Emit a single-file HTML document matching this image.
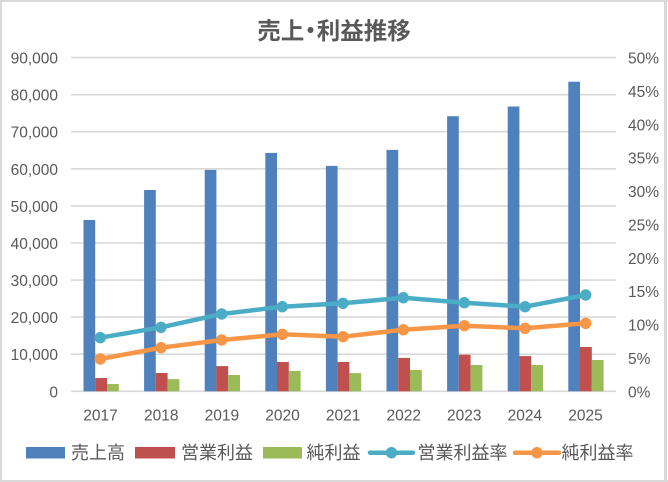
<!DOCTYPE html>
<html><head><meta charset="utf-8">
<style>
html,body{margin:0;padding:0;background:#fff;}
body{width:668px;height:482px;overflow:hidden;}
svg{display:block;}
.ax{font-family:"Liberation Sans","Noto Sans CJK JP",sans-serif;font-size:15.5px;fill:#595959;}
.lg{font-family:"Liberation Sans","Noto Sans CJK JP",sans-serif;font-size:18px;fill:#595959;}
.tt{font-family:"Liberation Sans","Noto Sans CJK JP",sans-serif;font-size:23.5px;font-weight:bold;fill:#595959;}
</style></head>
<body>
<svg width="668" height="482" viewBox="0 0 668 482" xmlns="http://www.w3.org/2000/svg">
<rect x="0" y="0" width="668" height="482" fill="#fff"/>
<!-- border -->
<rect x="0" y="0" width="668" height="2" fill="#d9d9d9"/>
<rect x="0" y="480" width="668" height="2" fill="#d9d9d9"/>
<rect x="0" y="0" width="2" height="482" fill="#d9d9d9"/>
<rect x="664" y="0" width="3" height="482" fill="#d9d9d9"/>

<text class="tt" x="334" y="39" text-anchor="middle">売上<tspan dx="-5.5">・</tspan><tspan dx="-5.5">利益推移</tspan></text>

<!-- gridlines -->
<g stroke="#d9d9d9" stroke-width="1.6">
<line x1="71" x2="616" y1="57.6" y2="57.6"/>
<line x1="71" x2="616" y1="94.7" y2="94.7"/>
<line x1="71" x2="616" y1="131.7" y2="131.7"/>
<line x1="71" x2="616" y1="168.8" y2="168.8"/>
<line x1="71" x2="616" y1="205.9" y2="205.9"/>
<line x1="71" x2="616" y1="243.0" y2="243.0"/>
<line x1="71" x2="616" y1="280.1" y2="280.1"/>
<line x1="71" x2="616" y1="317.1" y2="317.1"/>
<line x1="71" x2="616" y1="354.2" y2="354.2"/>
<line x1="71" x2="616" y1="391.3" y2="391.3"/>
</g>

<!-- left axis labels -->
<g class="ax" text-anchor="end">
<text x="58" y="63.6">90,000</text>
<text x="58" y="100.7">80,000</text>
<text x="58" y="137.7">70,000</text>
<text x="58" y="174.8">60,000</text>
<text x="58" y="211.9">50,000</text>
<text x="58" y="249.0">40,000</text>
<text x="58" y="286.1">30,000</text>
<text x="58" y="323.1">20,000</text>
<text x="58" y="360.2">10,000</text>
<text x="58" y="397.3">0</text>
</g>
<!-- right axis labels -->
<g class="ax" text-anchor="start">
<text x="628" y="63.6">50%</text>
<text x="628" y="97.0">45%</text>
<text x="628" y="130.4">40%</text>
<text x="628" y="163.7">35%</text>
<text x="628" y="197.1">30%</text>
<text x="628" y="230.5">25%</text>
<text x="628" y="263.8">20%</text>
<text x="628" y="297.2">15%</text>
<text x="628" y="330.6">10%</text>
<text x="628" y="363.9">5%</text>
<text x="628" y="397.3">0%</text>
</g>
<!-- x labels -->
<g class="ax" text-anchor="middle">
<text x="100.5" y="420.5">2017</text>
<text x="161.3" y="420.5">2018</text>
<text x="221.9" y="420.5">2019</text>
<text x="282.5" y="420.5">2020</text>
<text x="343.1" y="420.5">2021</text>
<text x="403.7" y="420.5">2022</text>
<text x="464.3" y="420.5">2023</text>
<text x="524.9" y="420.5">2024</text>
<text x="585.5" y="420.5">2025</text>
</g>

<!-- sales bars -->
<g fill="#4f81bd">
<rect x="83.5" y="220.0" width="11.7" height="171.3"/>
<rect x="144.1" y="190.0" width="11.7" height="201.3"/>
<rect x="204.7" y="169.9" width="11.7" height="221.4"/>
<rect x="265.3" y="152.9" width="11.7" height="238.4"/>
<rect x="325.9" y="165.9" width="11.7" height="225.4"/>
<rect x="386.5" y="149.9" width="11.7" height="241.4"/>
<rect x="447.1" y="116.2" width="11.7" height="275.1"/>
<rect x="507.7" y="106.5" width="11.7" height="284.8"/>
<rect x="568.3" y="81.7" width="11.7" height="309.6"/>
</g>
<!-- operating profit bars -->
<g fill="#c0504d">
<rect x="95.2" y="378.0" width="11.8" height="13.3"/>
<rect x="155.8" y="373.0" width="11.8" height="18.3"/>
<rect x="216.4" y="366.1" width="11.8" height="25.2"/>
<rect x="277.0" y="362.0" width="11.8" height="29.3"/>
<rect x="337.6" y="362.0" width="11.8" height="29.3"/>
<rect x="398.2" y="357.9" width="11.8" height="33.4"/>
<rect x="458.8" y="354.7" width="11.8" height="36.6"/>
<rect x="519.4" y="356.1" width="11.8" height="35.2"/>
<rect x="580.0" y="347.0" width="11.8" height="44.3"/>
</g>
<!-- net profit bars -->
<g fill="#9bbb59">
<rect x="107.0" y="384.0" width="11.8" height="7.3"/>
<rect x="167.6" y="379.1" width="11.8" height="12.2"/>
<rect x="228.2" y="375.0" width="11.8" height="16.3"/>
<rect x="288.8" y="370.9" width="11.8" height="20.4"/>
<rect x="349.4" y="373.1" width="11.8" height="18.2"/>
<rect x="410.0" y="370.0" width="11.8" height="21.3"/>
<rect x="470.6" y="365.0" width="11.8" height="26.3"/>
<rect x="531.2" y="365.0" width="11.8" height="26.3"/>
<rect x="591.8" y="360.0" width="11.8" height="31.3"/>
</g>

<!-- operating margin line -->
<polyline fill="none" stroke="#4bacc6" stroke-width="4.5" stroke-linejoin="round" stroke-linecap="round"
 points="100.3,337.7 161,327.3 221.7,314 282.3,306.7 343,303.3 403.3,297.7 464.3,302.7 525,306.7 585.7,295"/>
<g fill="#4bacc6">
<circle cx="100.3" cy="337.7" r="5.7"/>
<circle cx="161" cy="327.3" r="5.7"/>
<circle cx="221.7" cy="314" r="5.7"/>
<circle cx="282.3" cy="306.7" r="5.7"/>
<circle cx="343" cy="303.3" r="5.7"/>
<circle cx="403.3" cy="297.7" r="5.7"/>
<circle cx="464.3" cy="302.7" r="5.7"/>
<circle cx="525" cy="306.7" r="5.7"/>
<circle cx="585.7" cy="295" r="5.7"/>
</g>
<!-- net margin line -->
<polyline fill="none" stroke="#f79646" stroke-width="4.5" stroke-linejoin="round" stroke-linecap="round"
 points="100.3,359 161,347.7 221.7,340 282.3,334.3 343,336.7 403.3,329.7 464.3,325.7 525,328.3 585.7,323.3"/>
<g fill="#f79646">
<circle cx="100.3" cy="359" r="5.7"/>
<circle cx="161" cy="347.7" r="5.7"/>
<circle cx="221.7" cy="340" r="5.7"/>
<circle cx="282.3" cy="334.3" r="5.7"/>
<circle cx="343" cy="336.7" r="5.7"/>
<circle cx="403.3" cy="329.7" r="5.7"/>
<circle cx="464.3" cy="325.7" r="5.7"/>
<circle cx="525" cy="328.3" r="5.7"/>
<circle cx="585.7" cy="323.3" r="5.7"/>
</g>

<!-- legend -->
<rect x="26" y="447" width="39" height="11.5" fill="#4f81bd"/>
<text class="lg" x="71" y="459">売上高</text>
<rect x="135" y="447" width="40" height="11.5" fill="#c0504d"/>
<text class="lg" x="181" y="459">営業利益</text>
<rect x="263" y="447" width="39" height="11.5" fill="#9bbb59"/>
<text class="lg" x="306.5" y="459">純利益</text>
<line x1="370" y1="452.7" x2="413" y2="452.7" stroke="#4bacc6" stroke-width="4.5" stroke-linecap="round"/>
<circle cx="391.5" cy="452.7" r="5.7" fill="#4bacc6"/>
<text class="lg" x="417.5" y="459">営業利益率</text>
<line x1="515" y1="452.7" x2="559" y2="452.7" stroke="#f79646" stroke-width="4.5" stroke-linecap="round"/>
<circle cx="537" cy="452.7" r="5.7" fill="#f79646"/>
<text class="lg" x="561.5" y="459">純利益率</text>
</svg>
</body></html>
